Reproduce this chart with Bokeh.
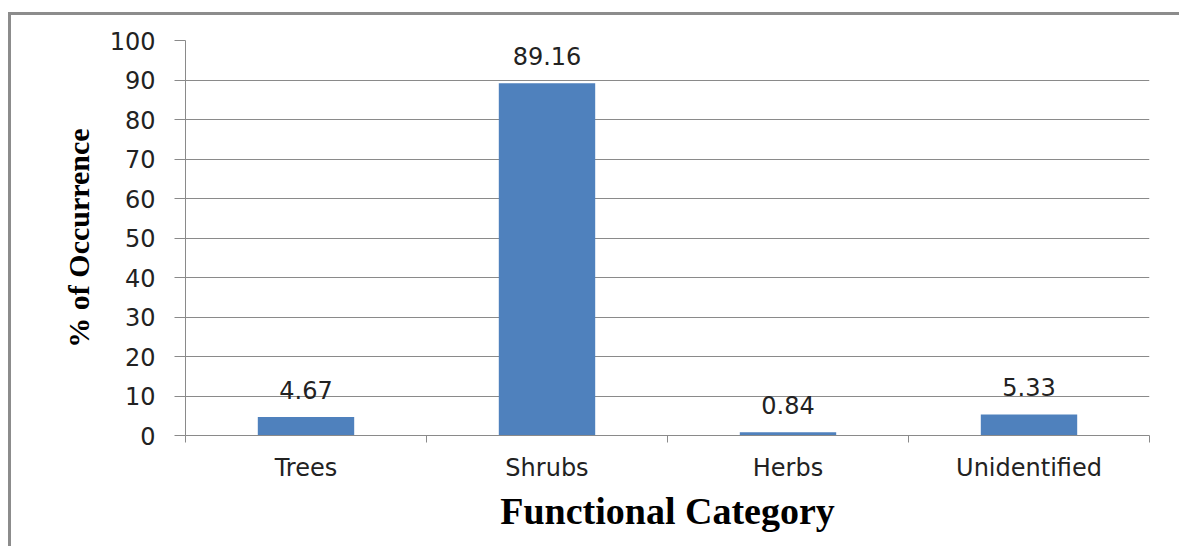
from bokeh.plotting import figure
from bokeh.models import Range1d, FixedTicker, ColumnDataSource
from bokeh.core.properties import value
from bokeh.embed import file_html
from bokeh.resources import INLINE

categories = ["Trees", "Shrubs", "Herbs", "Unidentified"]
values = [4.67, 89.16, 0.84, 5.33]
value_labels = ["4.67", "89.16", "0.84", "5.33"]
y_ticks = [0, 10, 20, 30, 40, 50, 60, 70, 80, 90, 100]

positions = [i + 0.5 for i in range(len(categories))]
boundaries = [float(i) for i in range(len(categories) + 1)]

src = ColumnDataSource(dict(x=positions, top=values, lab=value_labels))

p = figure(width=1171, height=534, output_backend="svg", toolbar_location=None,
           x_range=Range1d(0, len(categories)), y_range=Range1d(0, 100),
           min_border_left=174, min_border_right=33, min_border_top=25, min_border_bottom=114,
           margin=(12, 0, 0, 8))
p.styles = {"border-left": "3px solid #8c8c8c", "border-top": "3px solid #8c8c8c"}
p.outline_line_color = None
p.background_fill_color = "white"

p.vbar(x="x", top="top", width=0.4, source=src, fill_color="#4F81BD", line_color=None)
p.text(x="x", y="top", text="lab", source=src, text_align="center", text_baseline="alphabetic",
       y_offset=-27, text_font_size="24px", text_font=value("DejaVu Sans"), text_color="#222222")

gray = "#8a8a8a"
p.xgrid.grid_line_color = None
p.ygrid.ticker = FixedTicker(ticks=y_ticks)
p.ygrid.grid_line_color = gray

xa = p.xaxis[0]
xa.ticker = FixedTicker(ticks=positions, minor_ticks=boundaries)
xa.major_label_overrides = {pos: c for pos, c in zip(positions, categories)}
xa.major_tick_line_color = None
xa.minor_tick_line_color = gray
xa.minor_tick_in = 0
xa.minor_tick_out = 7
xa.axis_line_color = gray
xa.major_label_text_font = "DejaVu Sans"
xa.major_label_text_font_size = "24px"
xa.major_label_text_color = "#222222"
xa.major_label_standoff = 11
xa.axis_label = "Functional Category"
xa.axis_label_text_font = "Liberation Serif"
xa.axis_label_text_font_style = "bold"
xa.axis_label_text_font_size = "38px"
xa.axis_label_text_color = "black"
xa.axis_label_standoff = 5

ya = p.yaxis[0]
ya.ticker = FixedTicker(ticks=y_ticks)
ya.minor_tick_line_color = None
ya.major_tick_line_color = gray
ya.major_tick_in = 0
ya.major_tick_out = 11
ya.axis_line_color = gray
ya.major_label_text_font = "DejaVu Sans"
ya.major_label_text_font_size = "24px"
ya.major_label_text_color = "#222222"
ya.major_label_standoff = 19
ya.axis_label = "% of Occurrence"
ya.axis_label_text_font = "Liberation Serif"
ya.axis_label_text_font_style = "bold"
ya.axis_label_text_font_size = "30px"
ya.axis_label_text_color = "black"
ya.axis_label_standoff = 12

open("out.html", "w").write(file_html(p, INLINE))
